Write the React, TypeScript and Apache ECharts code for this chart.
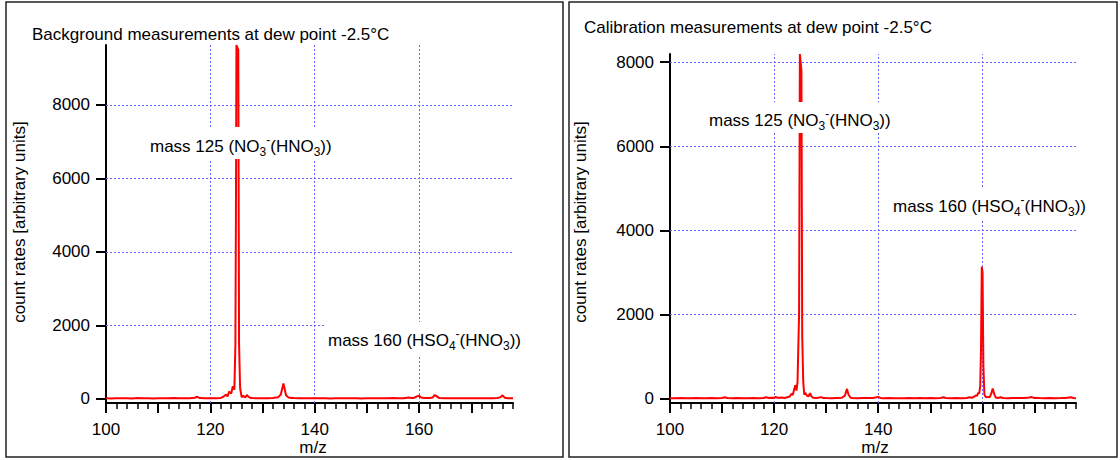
import React, { useEffect, useRef } from "react";
import * as echarts from "echarts";

// ---- Data ----
const bgMz = [
  100, 101, 102, 103, 104, 105, 106, 107, 108, 109, 110, 111, 112, 113, 114, 115, 116, 117, 117.5, 118,
  119, 120, 121, 122, 122.5, 123, 123.3, 123.6, 124, 124.3, 124.6, 124.8, 124.9, 125.0, 125.35, 125.5,
  125.7, 126, 126.3, 126.7, 127, 127.3, 127.7, 128, 129, 130, 131, 132, 133, 133.5, 133.8, 134, 134.2,
  134.5, 135, 135.5, 136, 137, 138, 139, 140, 141, 142, 143, 144, 145, 146, 147, 148, 149, 150, 151, 152,
  153, 154, 155, 156, 157, 158, 158.5, 159, 159.6, 160, 160.4, 161, 162, 162.6, 163, 163.4, 163.8, 164,
  165, 166, 167, 168, 169, 170, 171, 172, 173, 174, 175, 175.6, 176, 176.4, 177, 178,
];
const bgCounts = [
  20, 15, 22, 18, 20, 15, 25, 18, 20, 15, 22, 18, 20, 25, 18, 20, 22, 35, 60, 25,
  20, 18, 22, 30, 60, 120, 70, 200, 150, 350, 250, 1500, 5000, 9630, 9500, 1500,
  300, 50, 90, 40, 110, 60, 30, 25, 20, 18, 22, 25, 50, 120, 300, 420, 300,
  100, 40, 30, 25, 20, 18, 20, 22, 18, 20, 15, 18, 20, 22, 18, 20, 15, 18, 20, 22,
  18, 20, 25, 20, 22, 40, 25, 30, 70, 90, 40, 25, 25, 40, 110, 70, 30, 25,
  20, 22, 18, 20, 18, 22, 20, 18, 20, 22, 25, 50, 100, 35, 22, 20,
];

const calMz = [
  100, 101, 102, 103, 104, 105, 106, 107, 108, 109, 110, 110.5, 111, 112, 113, 114, 115, 116, 117, 118,
  118.5, 119, 119.5, 120, 120.3, 120.6, 121, 121.5, 122, 122.5, 123, 123.3, 123.6, 123.9, 124.1, 124.3,
  124.5, 124.7, 124.8, 124.95, 125.25, 125.4, 125.6, 125.8, 126, 126.3, 126.6, 126.9, 127.2, 127.5, 128,
  128.5, 129, 129.4, 130, 131, 132, 133, 133.6, 134, 134.3, 134.7, 135, 136, 137, 138, 139, 140, 140.4,
  141, 142, 143, 144, 145, 146, 147, 148, 149, 150, 151, 152, 152.5, 153, 154, 155, 156, 157, 157.5, 158,
  158.5, 158.8, 159, 159.2, 159.4, 159.6, 159.75, 159.9, 160.05, 160.2, 160.4, 160.7, 161, 161.4, 161.7,
  162, 162.3, 162.6, 163, 163.5, 164, 165, 166, 167, 168, 169, 169.5, 170, 171, 172, 173, 174, 175, 176,
  177, 177.5, 178,
];
const calCounts = [
  20, 18, 22, 20, 18, 22, 20, 18, 22, 20, 25, 40, 22, 20, 25, 20, 18, 22, 20, 25,
  40, 22, 30, 25, 50, 30, 28, 35, 25, 40, 60, 120, 100, 250, 330, 200,
  400, 1500, 2000, 8190, 7800, 1500, 400, 100, 150, 80, 60, 140, 60, 30, 25,
  30, 45, 25, 22, 20, 25, 30, 80, 240, 100, 30, 25, 20, 25, 22, 25, 50, 25,
  20, 22, 20, 18, 20, 22, 20, 25, 20, 22, 20, 25, 40, 22, 20, 22, 20, 25, 40, 30,
  60, 90, 70, 150, 130, 300, 1200, 3140, 3000, 800, 100, 40, 50, 40, 120,
  250, 110, 35, 25, 40, 22, 20, 25, 22, 25, 35, 45, 25, 22, 20, 22, 20, 22, 25,
  40, 22, 20,
];

const yTicks = [0, 2000, 4000, 6000, 8000];
const xMajorTicks = [100, 110, 120, 130, 140, 150, 160, 170];
const xLabels = [100, 120, 140, 160];
const gridX = [120, 140, 160];
const gridY = [2000, 4000, 6000, 8000];
const xRange = [100, 178];
const bgYRange = [-109, 9630];
const calYRange = [-95, 8190];

const FONT = "'Liberation Sans', Arial, Helvetica, sans-serif";

function pairs(xs: number[], ys: number[]) {
  return xs.map((x, i) => [x, ys[i]]);
}

function buildOption() {
  const grids = [
    { left: 106, top: 45, width: 407, height: 358 },
    { left: 670, top: 54, width: 406, height: 349 },
  ];
  const yRanges = [bgYRange, calYRange];
  const datasets = [pairs(bgMz, bgCounts), pairs(calMz, calCounts)];
  const axisLineStyle = { color: "#000", width: 2 };

  const xAxis: any[] = [];
  const yAxis: any[] = [];
  const series: any[] = [];
  [0, 1].forEach((gi) => {
    xAxis.push({
      gridIndex: gi,
      type: "value",
      position: "bottom",
      min: xRange[0],
      max: xRange[1],
      interval: 2,
      axisLine: { show: true, onZero: false, lineStyle: axisLineStyle },
      axisTick: { show: true, length: 6, lineStyle: { color: "#000", width: 1.5 } },
      axisLabel: { show: false },
      splitLine: { show: false },
    });
    xAxis.push({
      gridIndex: gi,
      type: "value",
      position: "bottom",
      min: xRange[0],
      max: xRange[1],
      axisLine: { show: false, onZero: false },
      axisTick: { show: true, customValues: xMajorTicks, length: 10, lineStyle: { color: "#000", width: 2 } },
      axisLabel: {
        show: true,
        customValues: xLabels,
        showMinLabel: true,
        fontSize: 17,
        color: "#000",
        fontFamily: FONT,
        margin: 18,
        formatter: (v: number) => String(v),
      },
      splitLine: { show: false },
    });
    yAxis.push({
      gridIndex: gi,
      type: "value",
      position: "left",
      min: yRanges[gi][0],
      max: yRanges[gi][1],
      axisLine: { show: true, onZero: false, lineStyle: axisLineStyle },
      axisTick: { show: true, customValues: yTicks, length: 10, lineStyle: { color: "#000", width: 2 } },
      axisLabel: {
        show: true,
        customValues: yTicks,
        fontSize: 17,
        color: "#000",
        fontFamily: FONT,
        margin: 16,
        formatter: (v: number) => String(v),
      },
      splitLine: { show: false },
    });
    series.push({
      type: "line",
      xAxisIndex: gi * 2,
      yAxisIndex: gi,
      data: datasets[gi],
      symbol: "none",
      showSymbol: false,
      z: 3,
      lineStyle: { color: "#ff0000", width: 2 },
      markLine: {
        silent: true,
        symbol: "none",
        z: 1,
        animation: false,
        label: { show: false },
        emphasis: { disabled: true },
        lineStyle: { type: [2, 2], color: "#6666ff", width: 1 },
        data: [...gridX.map((v) => ({ xAxis: v })), ...gridY.map((v) => ({ yAxis: v }))],
      },
    });
  });

  const rich = {
    n: { fontSize: 17, lineHeight: 24, fontFamily: FONT, color: "#000" },
    sub: { fontSize: 12, lineHeight: 12, verticalAlign: "bottom", fontFamily: FONT, color: "#000" },
    sup: { fontSize: 12, lineHeight: 12, verticalAlign: "top", fontFamily: FONT, color: "#000" },
  };
  const no3Label = "{n|mass 125 (NO}{sub|3}{sup|-}{n|(HNO}{sub|3}{n|))}";
  const hso4Label = "{n|mass 160 (HSO}{sub|4}{sup|-}{n|(HNO}{sub|3}{n|))}";
  const annot = (x: number, y: number, text: string, padding: number[]) => ({
    type: "text",
    x,
    y,
    z: 20,
    silent: true,
    style: {
      text,
      rich,
      align: "left",
      verticalAlign: "top",
      backgroundColor: "#ffffff",
      padding,
    },
  });
  const plainText = (x: number, y: number, text: string, extra: any = {}) => ({
    type: "text",
    x,
    y,
    z: 20,
    silent: true,
    ...extra,
    style: {
      text,
      fontSize: 17,
      fontFamily: FONT,
      fill: "#000",
      align: "left",
      verticalAlign: "middle",
      ...(extra.style || {}),
    },
  });

  const graphic = [
    { type: "rect", shape: { x: 6, y: 2, width: 557, height: 455 }, style: { fill: "none", stroke: "#222", lineWidth: 1.5 }, z: 20, silent: true },
    { type: "rect", shape: { x: 569, y: 2, width: 548, height: 455 }, style: { fill: "none", stroke: "#222", lineWidth: 1.5 }, z: 20, silent: true },
    plainText(32, 34, "Background measurements at dew point -2.5°C"),
    plainText(584, 27, "Calibration measurements at dew point -2.5°C"),
    plainText(19, 222, "count rates [arbitrary units]", { rotation: Math.PI / 2, style: { align: "center" } }),
    plainText(580, 222, "count rates [arbitrary units]", { rotation: Math.PI / 2, style: { align: "center" } }),
    plainText(313, 447, "m/z", { style: { align: "center" } }),
    plainText(875, 447, "m/z", { style: { align: "center" } }),
    annot(147, 127, no3Label, [7, 3, 1, 3]),
    annot(325, 322, hso4Label, [6, 3, 3, 3]),
    annot(706, 102, no3Label, [6, 3, 1, 3]),
    annot(890, 187, hso4Label, [7, 3, 3, 3]),
  ];

  return {
    animation: false,
    backgroundColor: "#ffffff",
    textStyle: { fontFamily: FONT },
    grid: grids,
    xAxis,
    yAxis,
    series,
    graphic,
  };
}

export default function App() {
  const ref = useRef<HTMLDivElement>(null);
  useEffect(() => {
    document.body.style.margin = "0";
    if (!ref.current) return;
    const chart = echarts.init(ref.current, undefined, { renderer: "svg" });
    chart.setOption(buildOption() as any);
    return () => chart.dispose();
  }, []);
  return <div ref={ref} style={{ width: 1120, height: 460 }} />;
}
